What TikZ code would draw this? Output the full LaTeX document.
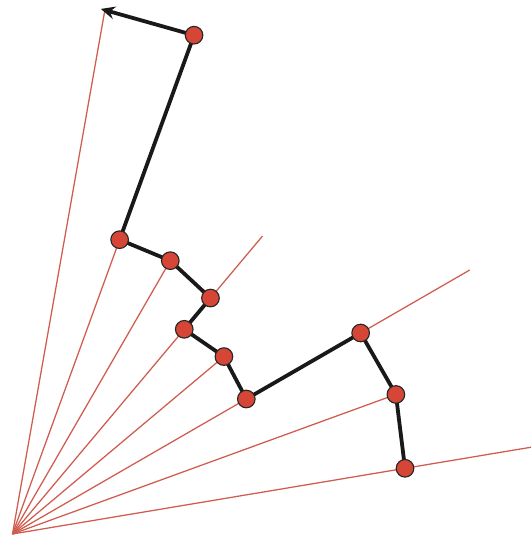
\documentclass[tikz,border=0pt]{standalone}
\usepackage{tikz}
\usetikzlibrary{arrows.meta,backgrounds}

\definecolor{raycol}{RGB}{208,92,80}
\definecolor{dotcol}{RGB}{214,70,54}

\begin{document}
\begin{tikzpicture}[
    ray/.style={draw=raycol, line width=0.9pt},
    walk/.style={draw=black!90, line width=2.7pt, line join=round},
    dot/.style={circle, draw=black!85, line width=0.8pt, fill=dotcol, minimum size=0.44cm, inner sep=0pt},
    tip/.style={-{Stealth[length=10pt,width=9pt]}, shorten >=-3pt}
]
\useasboundingbox (-0.3125,-0.175) rectangle (12.9625,13.35);
\coordinate (O) at (0,0);

% points on the rays
\node[dot] (p1) at (9.5:9.95) {};
\node[dot] (p2) at (20:10.2) {};
\node[dot] (p3) at (30:10.05) {};
\node[dot] (p4) at (30:6.75) {};
\node[dot] (p5) at (40:6.9) {};
\node[dot] (p6) at (50:6.68) {};
\node[dot] (p7) at (50:7.7) {};
\node[dot] (p8) at (60:7.89) {};
\node[dot] (p9) at (70:7.83) {};
\node[dot] (p10) at (70:13.27) {};

% free ends of the long rays
\coordinate (e10) at (9.5:13.15);
\coordinate (e30) at (30:13.2);
\coordinate (e50) at (50:9.72);
\coordinate (e80) at (80:13.3);

\begin{scope}[on background layer]
\draw[ray] (O) -- (e10);
\draw[ray] (O) -- (p2.center);
\draw[ray] (O) -- (e30);
\draw[ray] (O) -- (p5.center);
\draw[ray] (O) -- (e50);
\draw[ray] (O) -- (p8.center);
\draw[ray] (O) -- (p9.center);
\draw[ray] (O) -- (e80);

\draw[walk] (p1.center) -- (p2.center) -- (p3.center) -- (p4.center) -- (p5.center)
  -- (p6.center) -- (p7.center) -- (p8.center) -- (p9.center) -- (p10.center);
\draw[walk, tip] (p10.center) -- (e80);
\end{scope}
\end{tikzpicture}
\end{document}
